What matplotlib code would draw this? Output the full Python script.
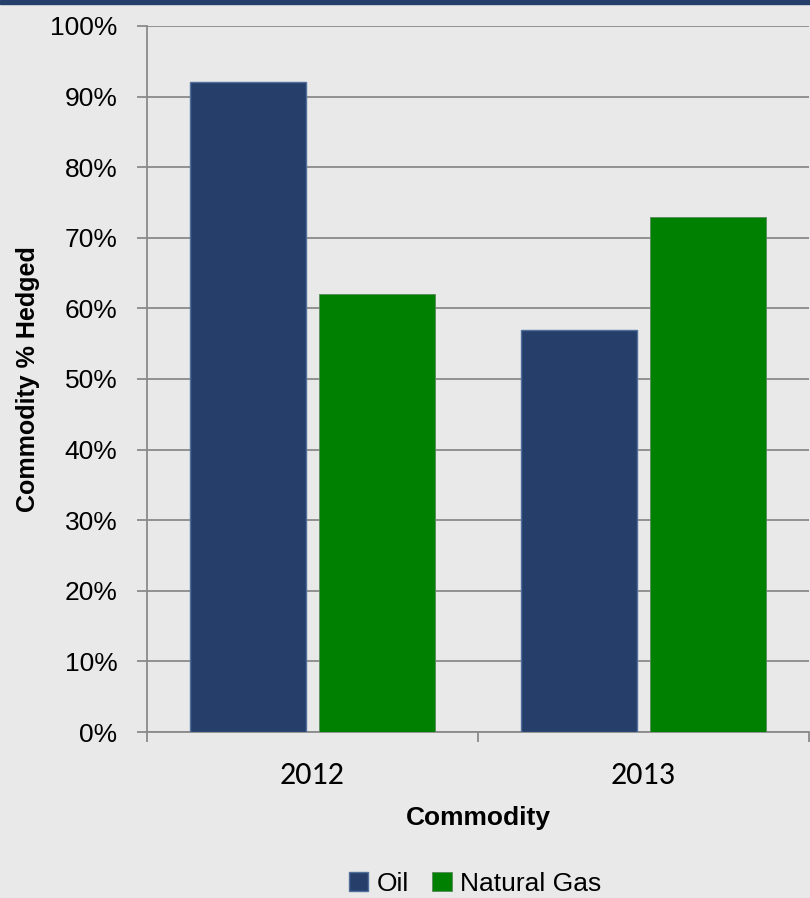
import matplotlib
matplotlib.use('Agg')
from matplotlib import pyplot as plt
from matplotlib.patches import Rectangle
from matplotlib.ticker import FuncFormatter
import numpy

years = ['2012', '2013']
series_names = ['Oil', 'Natural Gas']
oil_hedged = [92, 57]
gas_hedged = [62, 73]

narrow = ['Liberation Sans', 'DejaVu Sans']
calibri_like = ['Carlito', 'Lato', 'DejaVu Sans']

bg = '#e9e9e9'
grid_grey = '#8a8a8a'
oil_col = '#263f6a'
gas_col = '#008000'

fig = plt.figure(figsize=(8.1, 8.98), dpi=100, facecolor=bg)
ax = fig.add_axes([147/810, 1 - 732/898, 662/810, (732 - 26)/898])
ax.set_facecolor(bg)

# dark band across the top
fig.patches.append(Rectangle((0, 1 - 4/898), 1, 4/898, transform=fig.transFigure,
                             color=oil_col, zorder=5))

x = numpy.arange(len(years))
width = 0.35
offset = 0.196
ax.bar(x - offset, oil_hedged, width, color=oil_col, edgecolor='#4f6f9c',
       linewidth=1, label=series_names[0], zorder=3)
ax.bar(x + offset, gas_hedged, width, color=gas_col, edgecolor='#5a8a5a',
       linewidth=0.6, label=series_names[1], zorder=3)

ax.set_xlim(-0.5, 1.5)
ax.set_ylim(0, 100)
ax.set_yticks(range(0, 101, 10))
ax.yaxis.set_major_formatter(FuncFormatter(lambda v, p: '%d%%' % v))
ax.grid(axis='y', color=grid_grey, linewidth=1.3, zorder=0)

for side in ['top', 'right']:
    ax.spines[side].set_visible(False)
for side in ['left', 'bottom']:
    ax.spines[side].set_color(grid_grey)
    ax.spines[side].set_linewidth(1.3)

ax.tick_params(axis='y', direction='out', length=7.2, width=1.3, color=grid_grey,
               pad=14, labelsize=19)
for lab in ax.get_yticklabels():
    lab.set_family(narrow)

# year labels sit in the middle of each group, ticks mark group boundaries
ax.set_xticks(x)
ax.set_xticklabels(years, family=calibri_like, fontsize=23)
ax.tick_params(axis='x', which='major', length=0, pad=21)
ax.set_xticks([-0.5, 0.5, 1.5], minor=True)
ax.tick_params(axis='x', which='minor', direction='out', length=7.2, width=1.3,
               color=grid_grey)

ax.set_xlabel('Commodity', family=narrow, fontsize=19, fontweight='bold')
ax.xaxis.set_label_coords(0.5, -(818 - 732)/706)
ax.xaxis.label.set_va('center')
ax.set_ylabel('Commodity % Hedged', family=narrow, fontsize=18, fontweight='bold')
ax.yaxis.set_label_coords((28 - 147)/662, 0.5)
ax.yaxis.label.set_va('center')

fig.legend(loc='center', bbox_to_anchor=(475/810, 1 - 884/898), ncol=2, frameon=False,
           prop={'family': narrow, 'size': 19}, handlelength=0.75, handleheight=0.75,
           handletextpad=0.3, columnspacing=0.9, borderaxespad=0)

fig.savefig('out.png', dpi=100, facecolor=bg)
